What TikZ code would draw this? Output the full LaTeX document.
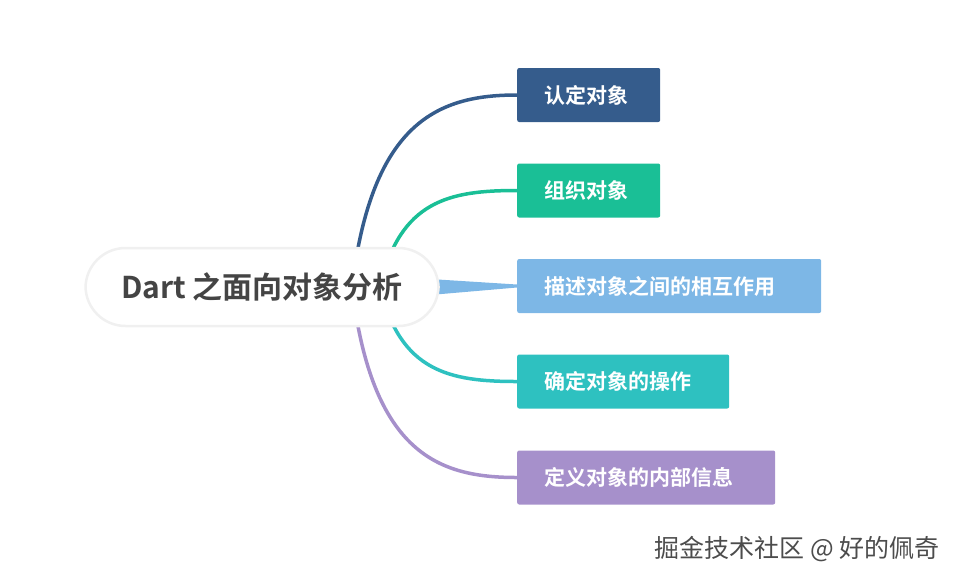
\documentclass[tikz,border=0pt]{standalone}
\usepackage{fontspec}
\setmainfont{Noto Sans CJK SC}
\newfontfamily\cjkb{Noto Sans CJK SC Bold}
\definecolor{cA}{HTML}{355C8C}
\definecolor{cB}{HTML}{1ABF96}
\definecolor{cC}{HTML}{7DB7E6}
\definecolor{cD}{HTML}{2EC1C0}
\definecolor{cE}{HTML}{A690CB}
\definecolor{ctxt}{HTML}{444444}
\tikzset{
  box/.style={rounded corners=2pt, minimum height=54pt, inner xsep=27pt, text width=#1, align=left, anchor=west, text=white, font=\cjkb\fontsize{21}{21}\selectfont},
  link/.style={line width=3.5pt},
}
\begin{document}
\begin{tikzpicture}[x=1pt,y=-1pt]
\useasboundingbox (0,0) rectangle (960,582);
\node[box=89pt, fill=cA] (b1) at (517,95) {认定对象};
\node[box=89pt, fill=cB] (b2) at (517,190.5) {组织对象};
\node[box=250pt, fill=cC] (b3) at (517,286) {描述对象之间的相互作用};
\node[box=158pt, fill=cD] (b4) at (517,381.5) {确定对象的操作};
\node[box=204pt, fill=cE] (b5) at (517,477.5) {定义对象的内部信息};
\coordinate (s1) at (352,287);
\coordinate (s2) at (380,287);
\coordinate (s4) at (380,287);
\coordinate (s5) at (352,287);
\draw[link, cA] (s1) .. controls (372,120) and (440,95) .. (b1.west);
\draw[link, cB] (s2) .. controls (400,200) and (450,190.5) .. (b2.west);
\fill[cC] (430,279) -- (517,284.5) -- (517,287.5) -- (430,295) -- cycle;
\draw[link, cD] (s4) .. controls (400,372) and (450,381.5) .. (b4.west);
\draw[link, cE] (s5) .. controls (372,455) and (440,477.5) .. (b5.west);
\node[draw=black!6, line width=2.5pt, fill=white, rounded corners=40pt, minimum width=353pt, minimum height=78pt, text=ctxt, font=\cjkb\fontsize{30}{30}\selectfont] (c) at (262,287) {Dart 之面向对象分析};
\node[anchor=east, text=black!70, font=\fontsize{25}{25}\selectfont] (w) at (943,549) {掘金技术社区 @ 好的佩奇};
\end{tikzpicture}
\end{document}
